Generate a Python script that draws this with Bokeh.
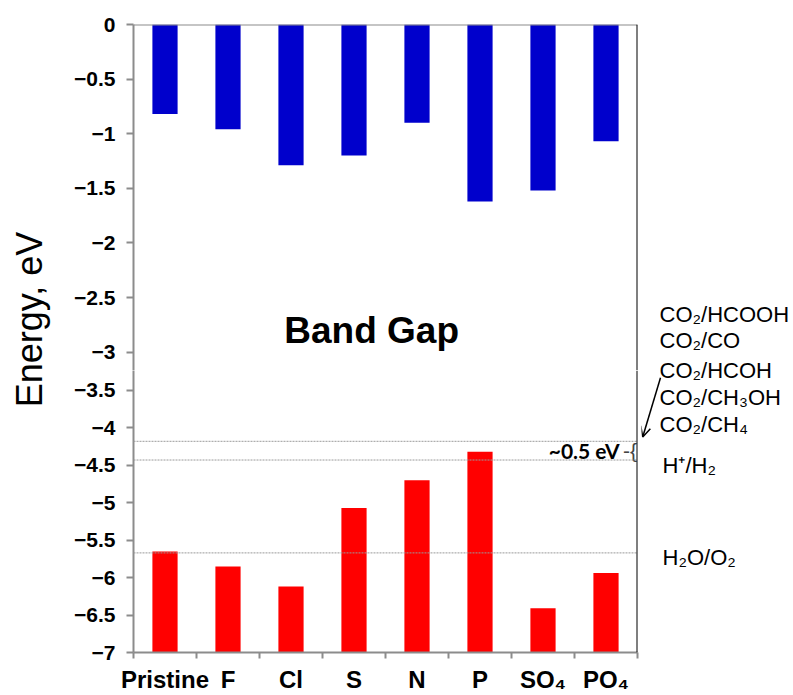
import math
from bokeh.plotting import figure
from bokeh.models import Range1d, FixedTicker, Span, Arrow, OpenHead, CustomJSTickFormatter
from bokeh.layouts import row, column
from bokeh.core.properties import value
from bokeh.embed import file_html
from bokeh.resources import INLINE

# ---------------- data ----------------
categories = ["Pristine", "F", "Cl", "S", "N", "P", "SO\u2084", "PO\u2084"]
cb_values = [-0.82, -0.96, -1.29, -1.20, -0.90, -1.62, -1.52, -1.07]   # blue bars (top)
vb_values = [-5.65, -5.85, -6.12, -5.07, -4.70, -4.32, -6.41, -5.94]   # red bars (bottom)
top_ticks = [0, -0.5, -1, -1.5, -2, -2.5, -3]
bottom_ticks = [-3.5, -4, -4.5, -5, -5.5, -6, -6.5, -7]
y_min = -7
reference_levels = [-4.18, -4.43, -5.67]
couple_labels = ["CO\u2082/HCOOH", "CO\u2082/CO", "CO\u2082/HCOH", "CO\u2082/CH\u2083OH", "CO\u2082/CH\u2084"]
couple_label_y = [-2.50, -2.85, -3.23, -3.59, -3.94]
level_labels = ["H\u207a/H\u2082", "H\u2082O/O\u2082"]
level_label_y = [-4.47, -5.67]

# ---------------- layout constants ----------------
FONT = value("Liberation Sans")
AXIS_GRAY = "#8c8c8c"
TOP_PX_PER_UNIT = 109.2
BOT_PX_PER_UNIT = 76.75
L_W, MID_W, R_W = 55, 586, 152
T_H, B_H = 370, 325
T_BORDER_TOP, B_BORDER_BOTTOM = 24, 36
BORDER_LEFT, BORDER_RIGHT = 78, 4

n = len(categories)
centers = [i + 0.5 for i in range(n)]
bounds = list(range(n + 1))


def base_fig(**kw):
    p = figure(toolbar_location=None, output_backend="svg", min_border=0,
               title_location=None, **kw)
    p.outline_line_color = None
    p.background_fill_color = "white"
    p.border_fill_color = "white"
    p.grid.visible = False
    return p


def style_y(ax, ticks):
    ax.ticker = FixedTicker(ticks=ticks)
    ax.formatter = CustomJSTickFormatter(code="return String(tick).replace('-', '\u2212');")
    ax.axis_line_color = AXIS_GRAY
    ax.axis_line_width = 2
    ax.major_tick_line_color = AXIS_GRAY
    ax.major_tick_line_width = 2
    ax.major_tick_out = 7
    ax.major_tick_in = 0
    ax.minor_tick_line_color = None
    ax.major_label_text_font = "Liberation Sans"
    ax.major_label_text_font_size = "21px"
    ax.major_label_text_font_style = "bold"
    ax.major_label_text_color = "black"
    ax.major_label_standoff = 11


xr = Range1d(0, n)

# ---------------- top panel (conduction band) ----------------
top_frame_h = T_H - T_BORDER_TOP
top = base_fig(width=MID_W, height=T_H, x_range=xr,
               y_range=Range1d(-top_frame_h / TOP_PX_PER_UNIT, 0),
               x_axis_location=None, y_axis_location="left",
               min_border_left=BORDER_LEFT, min_border_right=BORDER_RIGHT,
               min_border_top=T_BORDER_TOP, min_border_bottom=0)
style_y(top.yaxis[0], top_ticks)
top.vbar(x=centers, top=0, bottom=cb_values, width=0.4, fill_color="#0000cc", line_color=None)
top.add_layout(Span(location=0, dimension="width", line_color=AXIS_GRAY, line_width=2))
top.add_layout(Span(location=n, dimension="height", line_color="black", line_width=2))
top.text(x=[3.78], y=[-2.80], text=["Band Gap"], text_font=FONT, text_font_size="37px",
         text_font_style="bold", text_align="center", text_baseline="middle", text_color="black")

# ---------------- bottom panel (valence band) ----------------
bot_frame_h = B_H - B_BORDER_BOTTOM
bot = base_fig(width=MID_W, height=B_H, x_range=xr,
               y_range=Range1d(y_min, y_min + bot_frame_h / BOT_PX_PER_UNIT),
               x_axis_location="below", y_axis_location="left",
               min_border_left=BORDER_LEFT, min_border_right=BORDER_RIGHT,
               min_border_top=0, min_border_bottom=B_BORDER_BOTTOM)
style_y(bot.yaxis[0], bottom_ticks)
bot.vbar(x=centers, top=vb_values, bottom=y_min, width=0.4, fill_color="#ff0000", line_color=None)
xa = bot.xaxis[0]
xa.ticker = FixedTicker(ticks=centers, minor_ticks=bounds)
xa.formatter = CustomJSTickFormatter(args=dict(names=categories),
                                     code="return names[Math.round(tick - 0.5)];")
xa.axis_line_color = AXIS_GRAY
xa.axis_line_width = 2
xa.major_tick_line_color = None
xa.major_tick_out = 0
xa.major_tick_in = 0
xa.minor_tick_line_color = AXIS_GRAY
xa.minor_tick_line_width = 2
xa.minor_tick_out = 6
xa.minor_tick_in = 0
xa.major_label_text_font = "Liberation Sans"
xa.major_label_text_font_size = "24px"
xa.major_label_text_font_style = "bold"
xa.major_label_text_color = "black"
xa.major_label_standoff = 7
for lv in reference_levels:
    bot.add_layout(Span(location=lv, dimension="width", line_color="#9a9a9a",
                        line_width=1, line_dash="2 1"))
bot.add_layout(Span(location=n, dimension="height", line_color="black", line_width=2))
gap_mid = (reference_levels[0] + reference_levels[1]) / 2
bot.text(x=[7.714], y=[gap_mid], text=["~0.5 eV"], text_font=value("Lato"), text_font_size="21px",
         text_font_style="bold", text_align="right", text_baseline="middle", text_color="black")
bot.text(x=[7.77], y=[gap_mid], text=["-{"], text_font=FONT, text_font_size="21px",
         text_align="left", text_baseline="middle", text_color="#444444")

# ---------------- left panel (axis title) ----------------
left = base_fig(width=L_W, height=T_H + B_H, x_range=Range1d(0, L_W),
                y_range=Range1d(0, T_H + B_H), x_axis_location=None, y_axis_location=None)
left.text(x=[28.5], y=[376], text=["Energy, eV"], angle=math.pi / 2, text_font=FONT,
          text_font_size="36px", text_align="center", text_baseline="middle", text_color="black")

# ---------------- right panel (redox couples) ----------------
r_top = y_min + bot_frame_h / BOT_PX_PER_UNIT + T_H / BOT_PX_PER_UNIT
r_bot = y_min - B_BORDER_BOTTOM / BOT_PX_PER_UNIT
right = base_fig(width=R_W, height=T_H + B_H, x_range=Range1d(0, R_W),
                 y_range=Range1d(r_bot, r_top), x_axis_location=None, y_axis_location=None)
right.text(x=18, y=couple_label_y, text=couple_labels, text_font=FONT, text_font_size="22px",
           text_align="left", text_baseline="middle", text_color="black")
right.text(x=21, y=level_label_y, text=level_labels, text_font=FONT, text_font_size="22px",
           text_align="left", text_baseline="middle", text_color="black")
right.add_layout(Arrow(x_start=19, y_start=-3.33, x_end=1.2, y_end=-4.10,
                       line_width=1.5, line_color="black",
                       end=OpenHead(size=10, line_width=1.5, line_color="black")))

layout = row(left, column(top, bot), right)
open("out.html", "w").write(file_html(layout, INLINE))
